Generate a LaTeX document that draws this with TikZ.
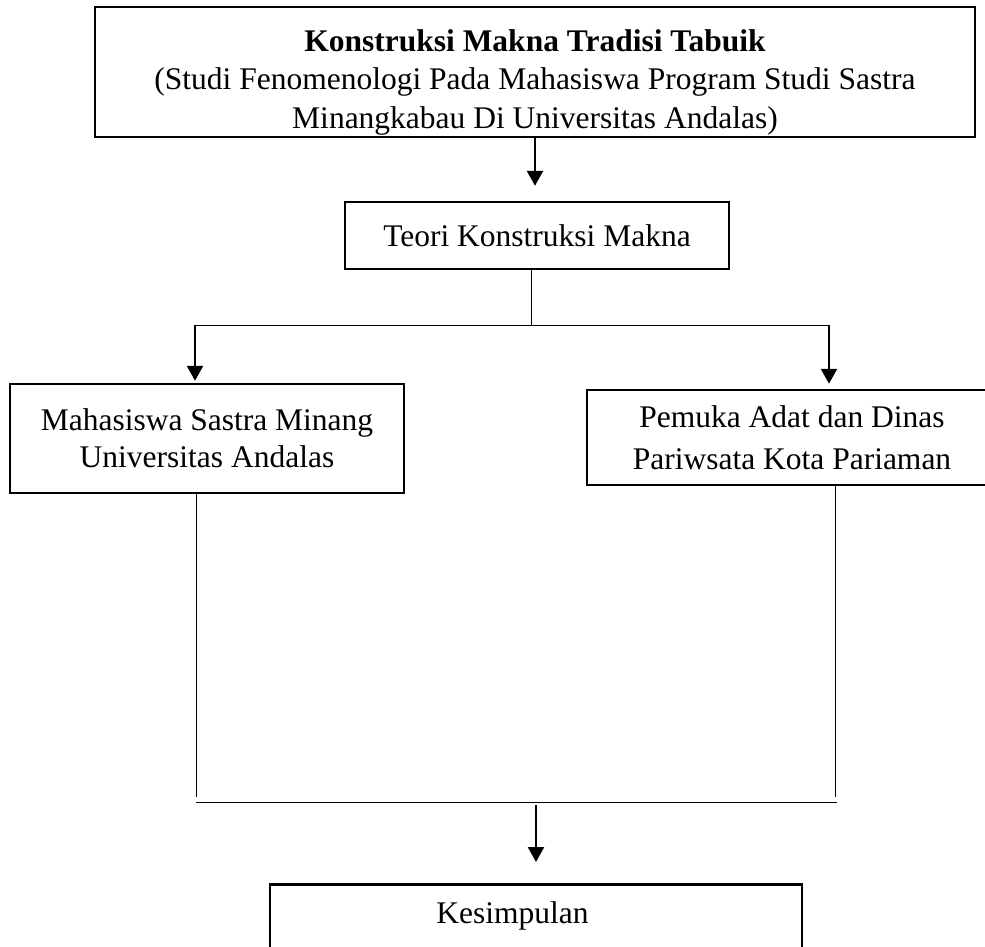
\documentclass[tikz,border=0pt]{standalone}
\usepackage{fontspec}
\setmainfont{Liberation Serif}
\usetikzlibrary{arrows.meta}

\begin{document}
\begin{tikzpicture}[x=1pt,y=-1pt]
			\tikzstyle{kotak}=[rectangle,draw,line width=2.5pt,inner sep=0pt,align=center,font=\fontsize{31.5}{37}\selectfont]
			\tikzstyle{tulisan}=[inner sep=0pt,align=center,font=\fontsize{31.5}{38.5}\selectfont]
			\tikzstyle{panah}=[line width=2.5pt,-{Triangle[length=15pt,width=16pt]}]
			\tikzstyle{garis}=[line width=1pt]

			\useasboundingbox (0,0) rectangle (985,946);
			\clip (0,0) rectangle (985,946);

			% kotak-kotak
			\node[kotak,minimum width=880pt,minimum height=130pt] (judul) at (535,72) {};
			\node[tulisan] (judultxt) at (535,82) {\textbf{Konstruksi Makna Tradisi Tabuik}\\(Studi Fenomenologi Pada Mahasiswa Program Studi Sastra\\Minangkabau Di Universitas Andalas)};
			\node[kotak,minimum width=384pt,minimum height=67pt] (teori) at (537,235.5) {Teori Konstruksi Makna};
			\node[kotak,minimum width=394pt,minimum height=109pt] (mhs) at (207,438.5) {Mahasiswa Sastra Minang\\Universitas Andalas};
			\node[kotak,minimum width=410pt,minimum height=95pt,font=\fontsize{31.5}{41.5}\selectfont] (pemuka) at (792,437.5) {Pemuka Adat dan Dinas\\Pariwsata Kota Pariaman};
			\node[kotak,minimum width=532pt,minimum height=120pt,anchor=north] (kes) at (536,883) {};
			\node[tulisan,anchor=base] (kestxt) at (512.5,923) {Kesimpulan};

			% titik cabang
			\coordinate (cabang) at (531,325);
			\coordinate (kiri) at (195,325);
			\coordinate (kanan) at (829,325);
			\coordinate (bawahkiri) at (196,797);
			\coordinate (bawahkanan) at (835,797);
			\coordinate (gabungkiri) at (196,802);
			\coordinate (gabungkanan) at (837,802);
			\coordinate (turun) at (536,805);

			% garis dan panah
			\draw[panah,shorten >=15pt] (judul.south) -- (judul.south |- teori.north);
			\draw[garis] (teori.south -| cabang) -- (cabang);
			\draw[garis] (kiri) -- (kanan);
			\draw[panah,shorten >=2pt] (kiri) -- (kiri |- mhs.north);
			\draw[panah,shorten >=5pt] (kanan) -- (kanan |- pemuka.north);
			\draw[garis] (mhs.south -| bawahkiri) -- (bawahkiri);
			\draw[garis] (pemuka.south -| bawahkanan) -- (bawahkanan);
			\draw[garis] (gabungkiri) -- (gabungkanan);
			\draw[panah,shorten >=21pt] (turun) -- (turun |- kes.north);
\end{tikzpicture}
\end{document}
